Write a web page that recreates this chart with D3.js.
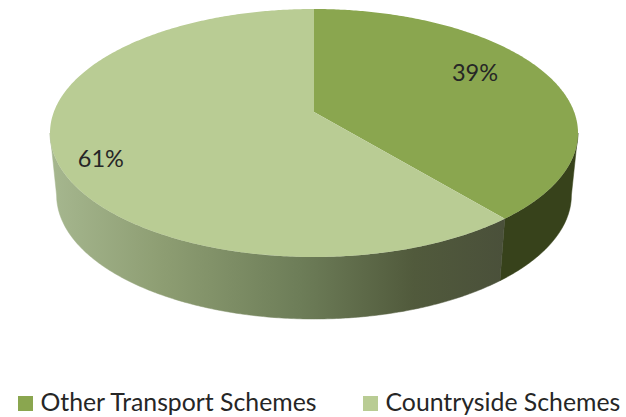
<!doctype html>
<html>
<head>
<meta charset="utf-8">
<title>Scheme split</title>
<style>
  html, body { margin: 0; padding: 0; background: #fff; }
  svg { display: block; }
  text { font-family: Lato, "Open Sans", sans-serif; fill: #262626; }
</style>
<script src="https://cdn.jsdelivr.net/npm/d3@7"></script>
</head>
<body>
<svg width="626" height="417"></svg>
<script>
// chart data
var categories = ["Other Transport Schemes", "Countryside Schemes"];
var shares = [39, 61];
var topColours = ["#8aa64f", "#b9cc94"];

var svg = d3.select("svg");

// the pie is a tilted disc, so the centre sits above the middle of the ellipse
var cx = 314, cy = 112,
    farReach = 103, nearReach = 145, halfWidth = 264,
    depth = 62, bottomShrink = 0.975;

var k = (nearReach - farReach) / (nearReach + farReach),
    b = farReach * (1 + k),
    a = halfWidth * Math.sqrt(1 - k * k);

// angle is clockwise from 12 o'clock, r is 1 at the rim
function project(angle, r) {
    var X = r * Math.sin(angle), Y = r * Math.cos(angle), w = 1 + k * Y;
    return [cx + a * X / w, cy - b * Y / w];
}
function projectBottom(angle) {
    var p = project(angle, 1);
    return [cx + (p[0] - cx) * bottomShrink, p[1] + depth];
}

var slices = d3.pie().sort(null).value(function(d){ return d; })(shares);
var line = d3.line();

// walk along the rim in small steps
function rimAngles(from, to) {
    var n = Math.max(2, Math.ceil((to - from) / 0.01));
    return d3.range(n + 1).map(function(i){ return from + (to - from) * i / n; });
}

// gradient on the front wall of the light slice
var defs = svg.append("defs");
var grad = defs.append("linearGradient")
    .attr("id", "wallGrad")
    .attr("gradientUnits", "userSpaceOnUse")
    .attr("x1", cx - halfWidth).attr("x2", project(slices[0].endAngle, 1)[0])
    .attr("y1", 0).attr("y2", 0);
grad.append("stop").attr("offset", "0").attr("stop-color", "#a6b78f");
grad.append("stop").attr("offset", "0.25").attr("stop-color", "#8d9d72");
grad.append("stop").attr("offset", "0.55").attr("stop-color", "#6d7d58");
grad.append("stop").attr("offset", "0.8").attr("stop-color", "#515a3c");
grad.append("stop").attr("offset", "1").attr("stop-color", "#4a503a");

// only the front of the disc has a visible wall
var frontFrom = Math.PI / 2 + Math.asin(k),
    frontTo = 3 * Math.PI / 2 - Math.asin(k);
var wallFills = ["#37421b", "url(#wallGrad)"];

svg.selectAll(".wall")
    .data(slices)
    .enter().append("path")
    .attr("class", "wall")
    .attr("fill", function(d, i){ return wallFills[i]; })
    .attr("stroke", function(d, i){ return wallFills[i]; })
    .attr("stroke-width", 0.5)
    .attr("d", function(d){
        var angles = rimAngles(Math.max(d.startAngle, frontFrom), Math.min(d.endAngle, frontTo));
        var upper = angles.map(function(t){ return project(t, 1); });
        var lower = angles.slice().reverse().map(projectBottom);
        return line(upper.concat(lower)) + "Z";
    });

// top faces
svg.selectAll(".face")
    .data(slices)
    .enter().append("path")
    .attr("class", "face")
    .attr("fill", function(d, i){ return topColours[i]; })
    .attr("d", function(d){
        var pts = rimAngles(d.startAngle, d.endAngle).map(function(t){ return project(t, 1); });
        return line([[cx, cy]].concat(pts)) + "Z";
    });

// data labels, nudged off the middle of each slice
var labelRadius = [0.745, 0.849],
    labelNudge = [-8.5 * Math.PI / 180, -5.2 * Math.PI / 180];

svg.selectAll(".label")
    .data(slices)
    .enter().append("text")
    .attr("class", "label")
    .attr("font-size", 23.5)
    .attr("text-anchor", "middle")
    .attr("dominant-baseline", "central")
    .attr("transform", function(d, i){
        var mid = (d.startAngle + d.endAngle) / 2 + labelNudge[i];
        return "translate(" + project(mid, labelRadius[i]) + ")";
    })
    .text(function(d){ return d.value + "%"; });

// legend
var legendX = d3.scaleOrdinal().domain(categories).range([18, 363]);
var legend = svg.selectAll(".legend")
    .data(categories)
    .enter().append("g")
    .attr("class", "legend")
    .attr("transform", function(d){ return "translate(" + legendX(d) + ",396)"; });

legend.append("rect")
    .attr("x", 0).attr("y", 0)
    .attr("width", 15).attr("height", 15)
    .attr("fill", function(d, i){ return topColours[i]; });

legend.append("text")
    .attr("x", 22.5).attr("y", 14.5)
    .attr("font-size", 24.8)
    .text(function(d){ return d; });
</script>
</body>
</html>
